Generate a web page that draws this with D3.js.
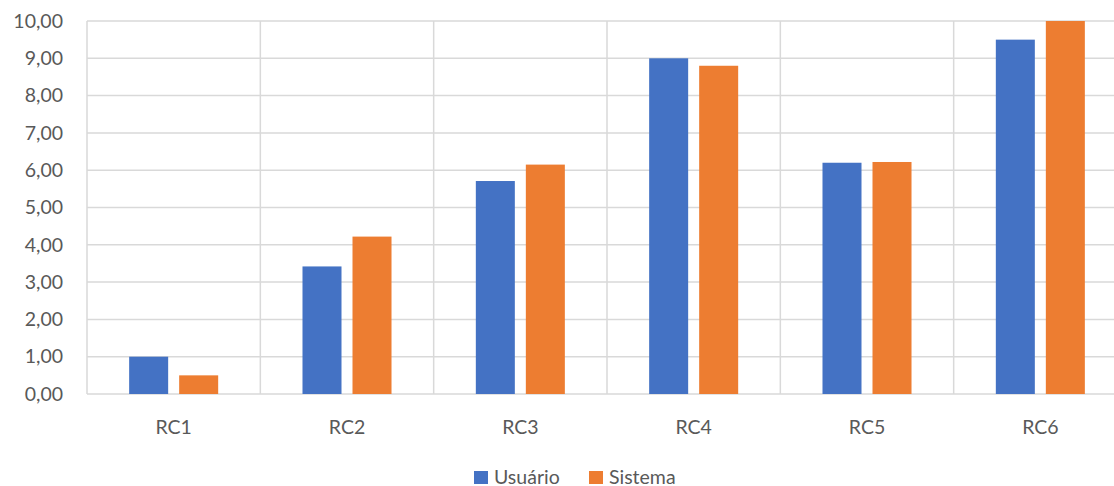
<!DOCTYPE html>
<html>
<head>
<meta charset="utf-8">
<script src="https://cdn.jsdelivr.net/npm/d3@7"></script>
<style>
  html, body { margin: 0; padding: 0; background: #fff; overflow: hidden; }
  svg { display: block; }
  text { font-family: Lato, "Open Sans", "Liberation Sans", sans-serif; fill: #595959; }
</style>
</head>
<body>
<svg id="chart" width="1114" height="486"></svg>
<script>
// Data
const categories = ["RC1", "RC2", "RC3", "RC4", "RC5", "RC6"];
const seriesNames = ["Usuário", "Sistema"];
const usuario = [1.0, 3.42, 5.71, 9.0, 6.2, 9.5];
const sistema = [0.5, 4.22, 6.15, 8.8, 6.22, 10.0];
const yTicks = [0, 1, 2, 3, 4, 5, 6, 7, 8, 9, 10];
const colors = ["#4472C4", "#ED7D31"];

const svg = d3.select("#chart");
const plot = { left: 87, right: 1127, top: 21, bottom: 394 };
const fontSize = 19.5;

const x = d3.scaleBand().domain(categories).range([plot.left, plot.right]).paddingInner(0).paddingOuter(0);
const xInner = d3.scaleBand().domain(seriesNames).range([0, x.bandwidth()]).paddingInner(0.22).paddingOuter(0.843);
const y = d3.scaleLinear().domain([0, 10]).range([plot.bottom, plot.top]);

const fmt = v => d3.format(".2f")(v).replace(".", ",");

// Horizontal gridlines
svg.append("g").selectAll("line").data(yTicks).join("line")
  .attr("x1", plot.left).attr("x2", plot.right)
  .attr("y1", d => y(d)).attr("y2", d => y(d))
  .attr("stroke", "#d9d9d9").attr("stroke-width", 1.5);

// Vertical gridlines at category boundaries
const bounds = categories.map(c => x(c)).concat([plot.right]);
svg.append("g").selectAll("line").data(bounds).join("line")
  .attr("x1", d => d).attr("x2", d => d)
  .attr("y1", plot.top).attr("y2", plot.bottom)
  .attr("stroke", "#d9d9d9").attr("stroke-width", 1.5);

// Y axis labels
const yAxis = d3.axisLeft(y).tickValues(yTicks).tickFormat(fmt).tickSize(0).tickPadding(24);
const gy = svg.append("g").attr("transform", `translate(${plot.left},0)`).call(yAxis);
gy.select(".domain").remove();
gy.selectAll("text").attr("font-size", fontSize).style("fill", "#595959")
  .style("font-family", 'Lato, "Open Sans", sans-serif');

// X axis labels
const xAxis = d3.axisBottom(x).tickSize(0).tickPadding(0);
const gx = svg.append("g").attr("transform", `translate(0,${plot.bottom})`).call(xAxis);
gx.select(".domain").remove();
gx.selectAll("text").attr("dy", null).attr("y", 39.5).attr("font-size", fontSize).style("fill", "#595959")
  .style("font-family", 'Lato, "Open Sans", sans-serif');

// Bars
const rows = categories.map((c, i) => ({ cat: c, vals: [usuario[i], sistema[i]] }));
const groups = svg.append("g").selectAll("g").data(rows).join("g")
  .attr("transform", d => `translate(${x(d.cat)},0)`);
groups.selectAll("rect").data(d => d.vals.map((v, j) => ({ name: seriesNames[j], v, j })))
  .join("rect")
  .attr("x", d => xInner(d.name))
  .attr("width", xInner.bandwidth())
  .attr("y", d => y(d.v))
  .attr("height", d => y(0) - y(d.v))
  .attr("fill", d => colors[d.j]);

// Legend
const legend = svg.append("g").attr("transform", "translate(474,0)");
const legendX = [0, 115];
seriesNames.forEach((name, i) => {
  const g = legend.append("g").attr("transform", `translate(${legendX[i]},0)`);
  g.append("rect").attr("x", 0).attr("y", 471).attr("width", 14).attr("height", 13).attr("fill", colors[i]);
  g.append("text").attr("x", 20).attr("y", 483.5).attr("font-size", fontSize).text(name);
});
</script>
</body>
</html>
